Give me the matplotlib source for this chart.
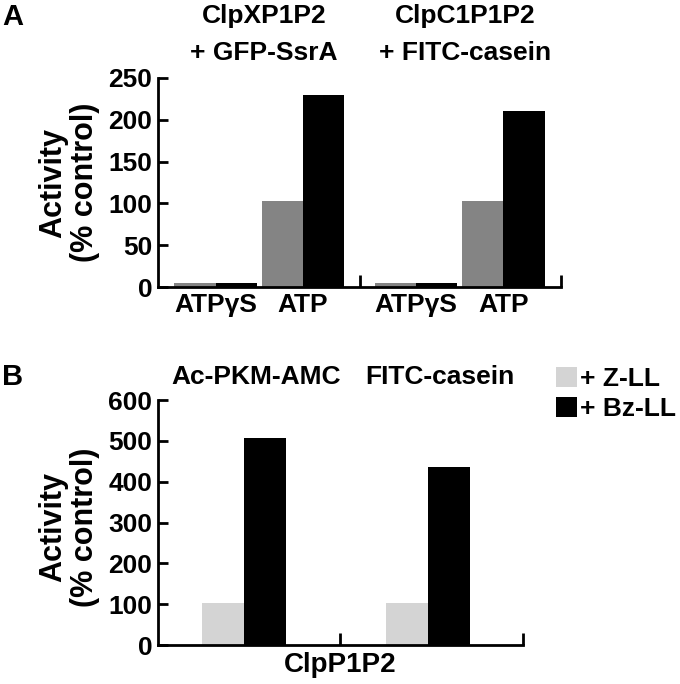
import numpy as np
import matplotlib
matplotlib.use("Agg")
import matplotlib.pyplot as plt
from matplotlib.patches import Patch

plt.rcParams['font.family'] = ['Liberation Sans Narrow', 'Liberation Sans', 'DejaVu Sans']
plt.rcParams['font.weight'] = 'bold'

# ---------------------- data ------------------------#
# panel A
nucleotides = ["ATP\u03b3S", "ATP"]
systems_a = [["ClpXP1P2", "+ GFP-SsrA"], ["ClpC1P1P2", "+ FITC-casein"]]
clpxp_gray = [5, 103]
clpxp_black = [5, 230]
clpc_gray = [5, 103]
clpc_black = [5, 210]

# panel B
substrates = ["Ac-PKM-AMC", "FITC-casein"]
z_ll = [102, 102]
bz_ll = [506, 437]
legend_labels = ["+ Z-LL", "+ Bz-LL"]

GRAY_A = '#848484'
GRAY_B = '#d4d4d4'
BLACK = '#000000'
FS = 19

fig = plt.figure(figsize=(6.8, 6.84), dpi=100)
ax_a = fig.add_axes([0.2324, 0.5804, 0.5926, 0.3056])
ax_b = fig.add_axes([0.2324, 0.0570, 0.5363, 0.3582])


def style_axis(ax):
    for side in ['top', 'right']:
        ax.spines[side].set_visible(False)
    for side in ['left', 'bottom']:
        ax.spines[side].set_linewidth(2.0)
    ax.tick_params(axis='y', direction='in', length=7, width=2.0, pad=4, labelsize=FS)


# ---------------------- panel A ------------------------#
w = 1.0
group_shift = 4.88
centers_a = np.array([1.40, 3.52])
all_centers = []
for g, (gray, black) in enumerate([(clpxp_gray, clpxp_black), (clpc_gray, clpc_black)]):
    c = centers_a + g * group_shift
    ax_a.bar(c - w / 2, gray, width=w, color=GRAY_A, linewidth=0)
    ax_a.bar(c + w / 2, black, width=w, color=BLACK, linewidth=0)
    all_centers.extend(c)
    mid = c.mean() + 0.12
    ax_a.text(mid, 1.263, systems_a[g][0], transform=ax_a.get_xaxis_transform(),
              ha='center', va='baseline', fontsize=FS)
    ax_a.text(mid, 1.086, systems_a[g][1], transform=ax_a.get_xaxis_transform(),
              ha='center', va='baseline', fontsize=FS)

style_axis(ax_a)
ax_a.set_ylim(0, 250)
ax_a.set_yticks(np.arange(0, 251, 50))
ax_a.set_xlim(0, 9.8)
ax_a.set_xticks(all_centers, nucleotides * 2)
ax_a.tick_params(axis='x', length=0, pad=4, labelsize=FS)
# separator ticks on the x axis
ax_a.set_xticks([4.90, 9.8], minor=True)
ax_a.tick_params(axis='x', which='minor', direction='in', length=9, width=2.0)

# ---------------------- panel B ------------------------#
centers_b = np.array([2.04, 6.40])
ax_b.bar(centers_b - w / 2, z_ll, width=w, color=GRAY_B, linewidth=0)
ax_b.bar(centers_b + w / 2, bz_ll, width=w, color=BLACK, linewidth=0)
for x, s in zip(centers_b, substrates):
    ax_b.text(x + 0.28, 1.065, s, transform=ax_b.get_xaxis_transform(),
              ha='center', va='baseline', fontsize=FS)

style_axis(ax_b)
ax_b.set_ylim(0, 600)
ax_b.set_yticks(np.arange(0, 601, 100))
ax_b.set_xlim(0, 8.64)
ax_b.set_xticks([4.32, 8.64])
ax_b.set_xticklabels([])
ax_b.tick_params(axis='x', direction='in', length=9, width=2.0)
ax_b.text(4.32, -0.11, "ClpP1P2", transform=ax_b.get_xaxis_transform(),
          ha='center', va='baseline', fontsize=FS + 1)

handles = [Patch(facecolor=GRAY_B), Patch(facecolor=BLACK)]
fig.legend(handles, legend_labels, loc='upper left', bbox_to_anchor=(556 / 680, 1 - 367 / 684),
           frameon=False, fontsize=FS, borderpad=0, borderaxespad=0,
           handlelength=0.8, handleheight=0.8, handletextpad=0.12, labelspacing=0.22)

# ---------------------- labels ------------------------#
for y in [0.733, 0.2295]:
    fig.text(0.1015, y, "Activity\n(% control)", rotation=90, ha='center', va='center',
             fontsize=22, linespacing=1.1, multialignment='center')

fig.text(0.003, 1 - 25 / 684, "A", fontsize=21, va='baseline')
fig.text(0.003, 1 - 385 / 684, "B", fontsize=21, va='baseline')

fig.savefig("out.png", dpi=100)
